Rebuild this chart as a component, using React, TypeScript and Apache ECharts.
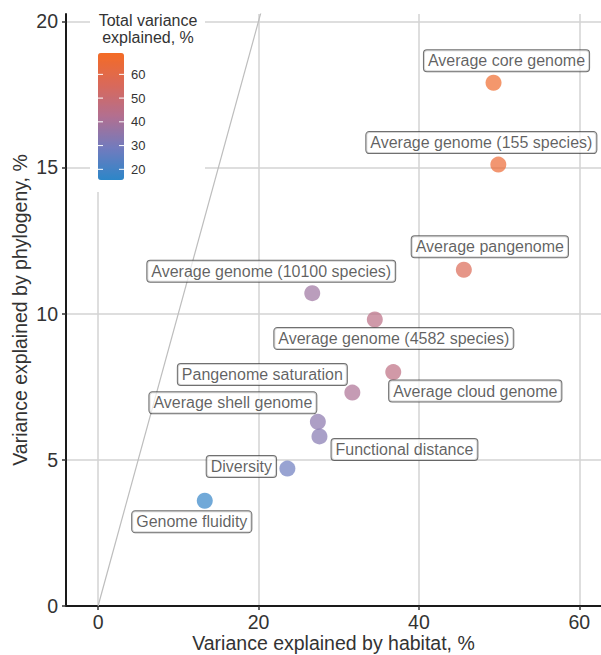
import React, { useEffect, useRef } from "react";
import * as echarts from "echarts";

const names = [
  "Average core genome",
  "Average genome (155 species)",
  "Average pangenome",
  "Average genome (10100 species)",
  "Average genome (4582 species)",
  "Average cloud genome",
  "Pangenome saturation",
  "Average shell genome",
  "Functional distance",
  "Diversity",
  "Genome fluidity",
];
const habitat = [49.3, 49.9, 45.6, 26.7, 34.5, 36.8, 31.7, 27.4, 27.6, 23.6, 13.3];
const phylogeny = [17.9, 15.1, 11.5, 10.7, 9.8, 8.0, 7.3, 6.3, 5.8, 4.7, 3.6];
const total = [67, 65, 57, 38, 45, 46, 41, 34, 33, 28, 17];

const xTicks = [0, 20, 40, 60];
const yTicks = [0, 5, 10, 15, 20];
const legendTicks = [20, 30, 40, 50, 60];
const identityLine = [
  [0, 0],
  [30, 30],
];

// label offsets in pixels (styling)
const labelOffsets: [number, number][] = [
  [13, -22],
  [-17, -22],
  [26, -23],
  [-41, -22],
  [19, 19],
  [82, 19],
  [-90, -18],
  [-85, -19],
  [85, 13],
  [-46, -2],
  [-13, 21],
];

const FONT = "'Liberation Sans', Arial, sans-serif";
const CB_MIN = 15.5;
const CB_MAX = 69;
const CB_LEFT = 98;
const CB_TOP = 53;
const CB_W = 26;
const CB_H = 127;

export default function App() {
  const ref = useRef<HTMLDivElement>(null);
  useEffect(() => {
    if (!ref.current) return;
    const chart = echarts.init(ref.current, undefined, { renderer: "svg" });
    const tickY = (v: number) => CB_TOP + ((CB_MAX - v) / (CB_MAX - CB_MIN)) * CB_H;
    const legendGraphics: any[] = [
      {
        type: "rect",
        z: 1,
        shape: { x: 90, y: 8, width: 115, height: 184 },
        style: { fill: "#ffffff" },
      },
      {
        type: "text",
        z: 10,
        x: 148,
        y: 12,
        style: {
          text: "Total variance\nexplained, %",
          font: `16px ${FONT}`,
          fill: "#333",
          align: "center",
          verticalAlign: "top",
          lineHeight: 17,
        },
      },
    ];
    legendTicks.forEach((v) => {
      const y = tickY(v);
      legendGraphics.push(
        {
          type: "line",
          z: 10,
          shape: { x1: CB_LEFT, y1: y, x2: CB_LEFT + 5, y2: y },
          style: { stroke: "#fff", lineWidth: 1 },
        },
        {
          type: "line",
          z: 10,
          shape: { x1: CB_LEFT + CB_W - 5, y1: y, x2: CB_LEFT + CB_W, y2: y },
          style: { stroke: "#fff", lineWidth: 1 },
        },
        {
          type: "text",
          z: 10,
          x: CB_LEFT + CB_W + 7,
          y,
          style: {
            text: String(v),
            font: `13px ${FONT}`,
            fill: "#333",
            align: "left",
            verticalAlign: "middle",
          },
        }
      );
    });

    const axisCommon = {
      axisLine: { show: true, onZero: false, lineStyle: { color: "#1a1a1a", width: 2 } },
      axisTick: { show: true, length: 4, lineStyle: { color: "#333", width: 1.5 } },
      splitLine: { show: true, lineStyle: { color: "#d3d3d3", width: 1.5 } },
      nameLocation: "middle" as const,
      nameMoveOverlap: false,
      nameTextStyle: { fontSize: 19.5, color: "#333", fontFamily: FONT },
    };

    chart.setOption({
      animation: false,
      textStyle: { fontFamily: FONT },
      grid: {
        left: 66,
        right: 0,
        top: 14,
        bottom: 49,
        containLabel: false,
        outerBoundsMode: "none",
      },
      xAxis: {
        type: "value",
        min: -4,
        max: 62.7,
        name: "Variance explained by habitat, %",
        nameGap: 27,
        ...axisCommon,
        axisTick: { ...axisCommon.axisTick, customValues: xTicks },
        axisLabel: { customValues: xTicks, fontSize: 19.5, color: "#333", margin: 6, fontFamily: FONT },
      },
      yAxis: {
        type: "value",
        min: 0,
        max: 20.25,
        name: "Variance explained by phylogeny, %",
        nameGap: 36,
        ...axisCommon,
        axisTick: { ...axisCommon.axisTick, customValues: yTicks },
        axisLabel: { customValues: yTicks, fontSize: 19.5, color: "#333", margin: 8, fontFamily: FONT },
      },
      visualMap: {
        type: "continuous",
        show: true,
        dimension: 2,
        seriesIndex: 1,
        min: CB_MIN,
        max: CB_MAX,
        left: CB_LEFT,
        top: CB_TOP,
        padding: 0,
        itemWidth: CB_W,
        itemHeight: CB_H,
        calculable: false,
        realtime: false,
        hoverLink: false,
        text: ["", ""],
        inRange: { color: ["#2C86C8", "#717BBE", "#B26F90", "#D9695A", "#F46B25"] },
      },
      graphic: legendGraphics,
      series: [
        {
          type: "line",
          data: identityLine,
          symbol: "none",
          clip: true,
          silent: true,
          z: 1,
          lineStyle: { color: "#bdbdbd", width: 1.2 },
        },
        {
          type: "scatter",
          symbolSize: 16,
          z: 3,
          itemStyle: { opacity: 0.7 },
          data: names.map((n, i) => ({
            name: n,
            value: [habitat[i], phylogeny[i], total[i]],
            label: {
              show: true,
              position: "inside",
              offset: labelOffsets[i],
              formatter: n,
              fontSize: 16,
              lineHeight: 17,
              fontFamily: FONT,
              color: "#1a1a1a",
              backgroundColor: "#ffffff",
              borderColor: "#333",
              borderWidth: 1,
              borderRadius: 3,
              padding: [2, 4, 2, 4],
            },
          })),
        },
      ],
    });
    return () => chart.dispose();
  }, []);
  return (
    <div
      ref={ref}
      style={{ position: "absolute", left: 0, top: 0, width: 601, height: 655 }}
    />
  );
}
